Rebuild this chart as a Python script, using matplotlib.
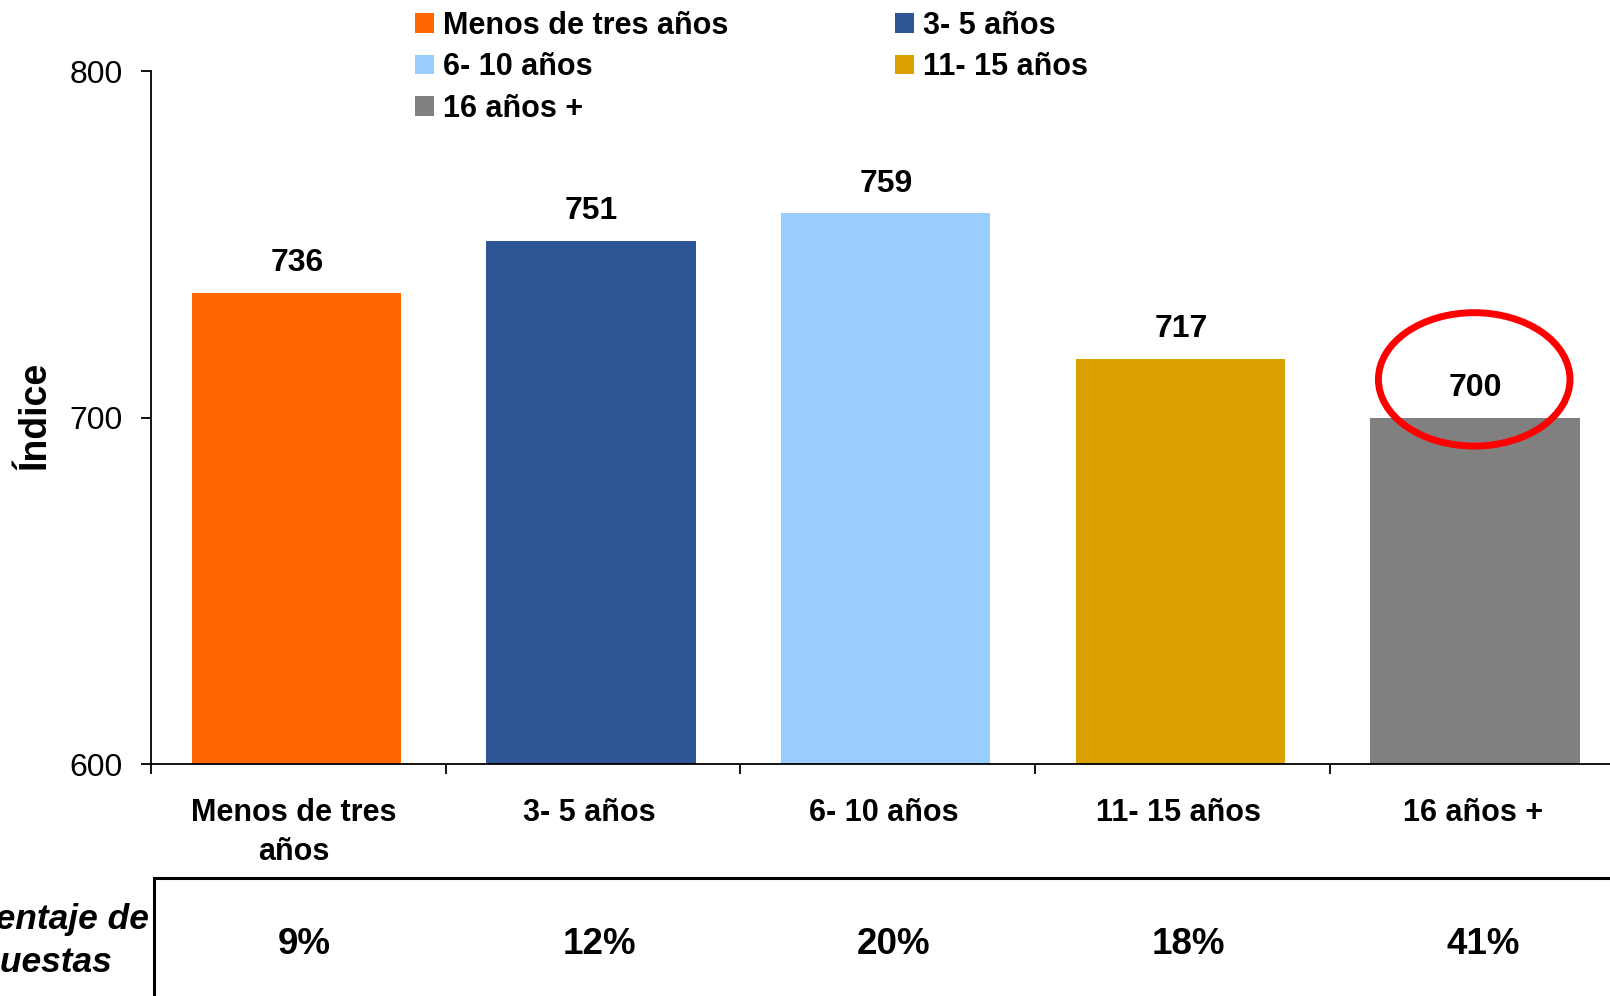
import matplotlib
matplotlib.use('Agg')
import matplotlib.pyplot as plt
import matplotlib.transforms as mtransforms
from matplotlib.patches import Ellipse, Rectangle
import numpy as np

plt.rcParams['font.family'] = ['Liberation Sans', 'DejaVu Sans']

categorias = ['Menos de tres años', '3- 5 años', '6- 10 años', '11- 15 años', '16 años +']
etiquetas_x = ['Menos de tres\naños', '3- 5 años', '6- 10 años', '11- 15 años', '16 años +']
indice = [736, 751, 759, 717, 700]
porcentaje = ['9%', '12%', '20%', '18%', '41%']
colores = ['#FF6600', '#2E5596', '#99CCFF', '#DBA100', '#808080']
yticks = [600, 700, 800]

W, H = 1610, 996
fig = plt.figure(figsize=(W / 100, H / 100), dpi=100)
# axes runs a bit past the right edge, like the original slide crop
ax = fig.add_axes([151 / W, 1 - 764 / H, 1473.5 / W, 693 / H])

x = np.arange(len(indice))
bars = ax.bar(x - 0.007, indice, width=0.71, color=colores, zorder=2)

ax.set_xlim(-0.5, len(indice) - 0.5)
ax.set_ylim(600, 800)
ax.set_yticks(yticks)
ax.set_yticklabels([str(t) for t in yticks], fontsize=23)

ax.set_xticks(np.arange(-0.5, len(indice)))
ax.set_xticklabels([])
ax.set_xticks(x - 0.014, minor=True)
ax.set_xticklabels(etiquetas_x, minor=True, fontsize=22, fontweight='bold', linespacing=1.4)
ax.tick_params(axis='x', which='major', direction='out', length=7.2, width=1.3)
ax.tick_params(axis='x', which='minor', length=0, pad=24.5)
ax.tick_params(axis='y', direction='out', length=7.2, width=1.3, pad=13)

for s in ['top', 'right']:
    ax.spines[s].set_visible(False)
for s in ['left', 'bottom']:
    ax.spines[s].set_linewidth(1.3)

for xi, v in zip(x, indice):
    ax.annotate(str(v), (xi - 0.005, v), xytext=(0, 15.5), textcoords='offset points',
                ha='center', va='baseline', fontsize=23, fontweight='bold')

# red circle around the last value
ax.add_patch(Ellipse((x[-1] - 0.01, indice[-1] + 11), 0.65, 38.5, fill=False,
                     edgecolor='#FF0000', linewidth=5, clip_on=False, zorder=3))

fig.text(35 / W, 1 - 416 / H, 'Índice', rotation=90, ha='center', va='center',
         fontsize=27, fontweight='bold')

orden = [0, 2, 4, 1, 3]
fig.legend([bars[i] for i in orden], [categorias[i] for i in orden],
           loc='upper left', bbox_to_anchor=(415 / W, 1 - 11 / H), ncol=2,
           frameon=False, prop={'weight': 'bold', 'size': 22},
           handlelength=0.62, handleheight=0.62, handletextpad=0.3,
           labelspacing=0.37, columnspacing=5.45, borderpad=0, borderaxespad=0)

# table of response share under the chart
fig.add_artist(Rectangle((154 / W, -0.1), 1, (996 - 878) / H + 0.1, fill=False,
                         linewidth=2.2, edgecolor='black', transform=fig.transFigure))
fig.text(149 / W, 1 - 919 / H, 'Porcentaje de', ha='right', va='center',
         fontsize=25.5, fontweight='bold', fontstyle='italic')
fig.text(113 / W, 1 - 962 / H, 'encuestas', ha='right', va='center',
         fontsize=25.5, fontweight='bold', fontstyle='italic')
trans = mtransforms.blended_transform_factory(ax.transData, fig.transFigure)
for xi, p in zip(x, porcentaje):
    ax.text(xi + 0.02, 1 - 944 / H, p, transform=trans, ha='center', va='center',
            fontsize=26.5, fontweight='bold', clip_on=False)

fig.savefig('out.png', dpi=100)
